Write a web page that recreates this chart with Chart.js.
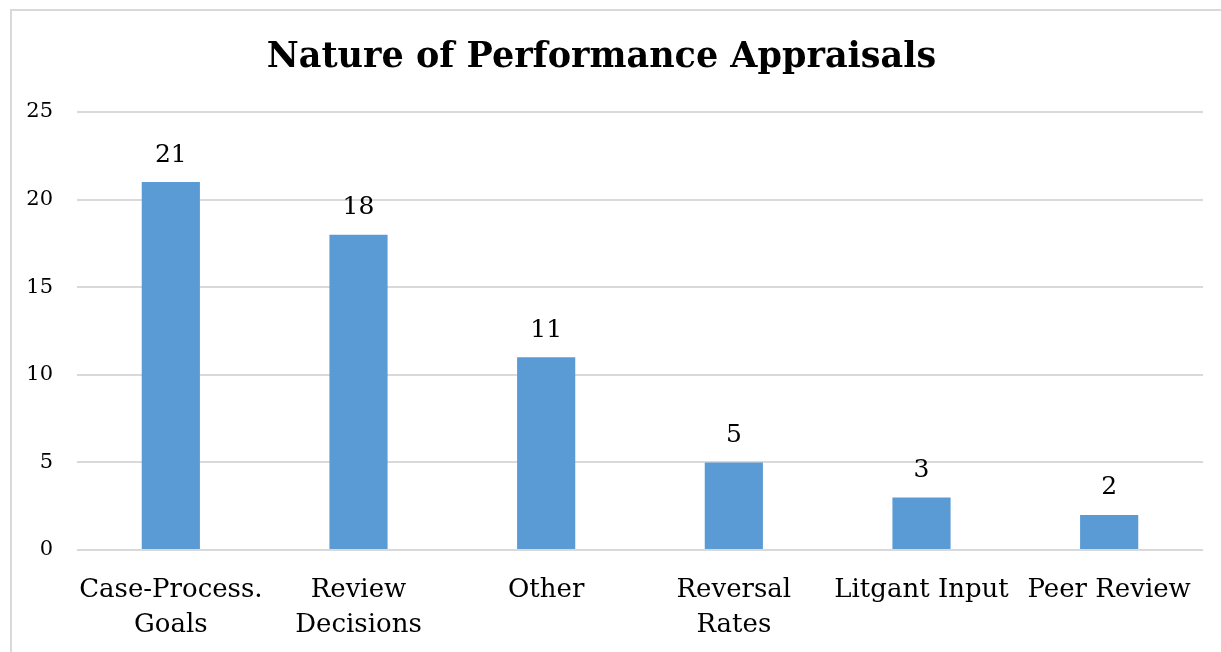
<!DOCTYPE html>
<html>
<head>
<meta charset="utf-8">
<script src="https://cdn.jsdelivr.net/npm/chart.js@4"></script>
<style>
    html, body { margin: 0; padding: 0; background: #fff; overflow: hidden; }
    #frame { position: absolute; left: 10px; top: 9px; width: 1300px; height: 700px; border: 2px solid #d9d9d9; }
    #wrap { position: absolute; left: 0; top: 0; width: 1221px; height: 652px; }
</style>
</head>
<body>
<div id="frame"></div>
<div id="wrap"><canvas id="chart"></canvas></div>
<script>
const categories = [
    ['Case-Process.', 'Goals'],
    ['Review', 'Decisions'],
    'Other',
    ['Reversal', 'Rates'],
    'Litgant Input',
    'Peer Review',
];
const counts = [21, 18, 11, 5, 3, 2];
const yTicks = [0, 5, 10, 15, 20, 25];

const FONT = "'DejaVu Serif', serif";

// value labels above each bar
const barLabels = {
    id: 'barLabels',
    afterDatasetsDraw(chart) {
        const ctx = chart.ctx;
        const meta = chart.getDatasetMeta(0);
        ctx.save();
        ctx.font = `25px ${FONT}`;
        ctx.fillStyle = '#000';
        ctx.textAlign = 'center';
        ctx.textBaseline = 'middle';
        meta.data.forEach((bar, i) => {
            ctx.fillText(String(counts[i]), bar.x, bar.y - 27);
        });
        ctx.restore();
    },
};

new Chart(document.getElementById('chart'), {
    type: 'bar',
    data: {
        labels: categories,
        datasets: [
            {
                data: counts,
                backgroundColor: '#5b9bd5',
                categoryPercentage: 1,
                barPercentage: 0.31,
            },
        ],
    },
    options: {
        responsive: true,
        maintainAspectRatio: false,
        animation: false,
        layout: { padding: { left: 0, right: 18, top: 0, bottom: 0 } },
        plugins: {
            legend: { display: false },
            tooltip: { enabled: false },
            title: {
                display: true,
                text: 'Nature of Performance Appraisals',
                color: '#000',
                font: { family: FONT, size: 35, weight: 'bold', lineHeight: 1.2 },
                padding: { top: 37, bottom: 33 },
            },
        },
        scales: {
            x: {
                grid: { display: false },
                border: { display: false },
                ticks: {
                    color: '#000',
                    font: { family: FONT, size: 26, lineHeight: 1.35 },
                    padding: 15,
                    maxRotation: 0,
                    autoSkip: false,
                },
                afterFit(scale) {
                    scale.height = 102;
                },
            },
            y: {
                min: 0,
                max: 25,
                afterBuildTicks(scale) {
                    scale.ticks = yTicks.map((v) => ({ value: v }));
                },
                grid: { color: '#d9d9d9', lineWidth: 2, drawTicks: false },
                border: { display: false },
                ticks: {
                    color: '#000',
                    font: { family: FONT, size: 21 },
                    padding: 24,
                },
                afterFit(scale) {
                    scale.width = 77;
                },
            },
        },
    },
    plugins: [barLabels],
});
</script>
</body>
</html>
